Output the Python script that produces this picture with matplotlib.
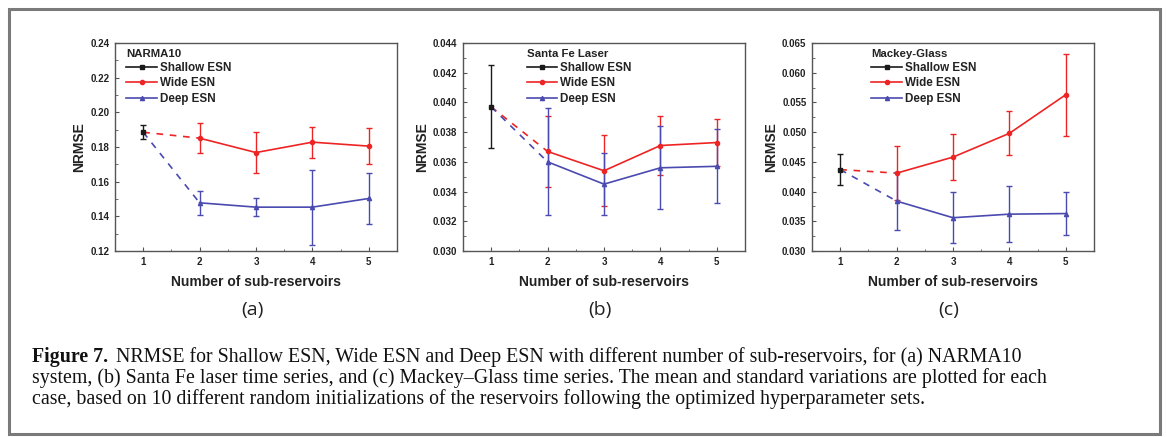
import matplotlib
matplotlib.use("Agg")
import matplotlib.pyplot as plt
from matplotlib.patches import Rectangle
from matplotlib.lines import Line2D
from matplotlib.ticker import MultipleLocator, FormatStrFormatter, AutoMinorLocator

# ---------------- data ----------------
sub_reservoirs = [1, 2, 3, 4, 5]
multi_x = [2, 3, 4, 5]

# (a) NARMA10
narma_shallow = 0.1885
narma_shallow_err = 0.0040
narma_wide = [0.1851, 0.1768, 0.1828, 0.1805]
narma_wide_err = [0.0087, 0.0118, 0.0089, 0.0103]
narma_deep = [0.1478, 0.1453, 0.1453, 0.1503]
narma_deep_err = [0.0069, 0.0053, 0.0216, 0.0145]

# (b) Santa Fe Laser
sfl_shallow = 0.0397
sfl_shallow_err = 0.0028
sfl_wide = [0.0367, 0.0354, 0.0371, 0.0373]
sfl_wide_err = [0.0024, 0.0024, 0.0020, 0.0016]
sfl_deep = [0.0360, 0.0345, 0.0356, 0.0357]
sfl_deep_err = [0.0036, 0.0021, 0.0028, 0.0025]

# (c) Mackey-Glass
mg_shallow = 0.0437
mg_shallow_err = 0.0026
mg_wide = [0.0431, 0.0458, 0.0498, 0.0563]
mg_wide_err = [0.0045, 0.0039, 0.0037, 0.0069]
mg_deep = [0.0384, 0.0356, 0.0362, 0.0363]
mg_deep_err = [0.0049, 0.0043, 0.0047, 0.0036]

panel_titles = ["NARMA10", "Santa Fe Laser", "Mackey-Glass"]
panel_tags = ["(a)", "(b)", "(c)"]
series_names = ["Shallow ESN", "Wide ESN", "Deep ESN"]
xlabel = "Number of sub-reservoirs"
ylabel = "NRMSE"

caption_bold = "Figure 7."
caption_line1 = "NRMSE for Shallow ESN, Wide ESN and Deep ESN with different number of sub-reservoirs, for (a) NARMA10"
caption_line2 = "system, (b) Santa Fe laser time series, and (c) Mackey\u2013Glass time series. The mean and standard variations are plotted for each"
caption_line3 = "case, based on 10 different random initializations of the reservoirs following the optimized hyperparameter sets."

# ---------------- style ----------------
W, H = 1167, 437
DPI = 100
SANS = ["Liberation Sans", "DejaVu Sans"]
plt.rcParams["font.family"] = SANS

C_SHALLOW = "#1a1a1a"
C_WIDE = "#ee2424"
C_DEEP = "#4a4ab0"
SPINE = "#555555"

fig = plt.figure(figsize=(W / DPI, H / DPI), dpi=DPI)

# outer frame
fig.patches.append(Rectangle((8.5 / W, 1 - 434 / H), (1160 - 8.5) / W, (434 - 8.5) / H,
                             transform=fig.transFigure, fill=False,
                             edgecolor="#7a7a7a", linewidth=2.2))

ax_lefts = [115, 463, 812]
ax_w = 282
ax_top, ax_bot = 43, 251

panels = [
    (narma_shallow, narma_shallow_err, narma_wide, narma_wide_err, narma_deep, narma_deep_err,
     (0.12, 0.24), 0.02, "%.2f", (0.02, 1.0)),
    (sfl_shallow, sfl_shallow_err, sfl_wide, sfl_wide_err, sfl_deep, sfl_deep_err,
     (0.030, 0.044), 0.002, "%.3f", (0.205, 1.0)),
    (mg_shallow, mg_shallow_err, mg_wide, mg_wide_err, mg_deep, mg_deep_err,
     (0.030, 0.065), 0.005, "%.3f", (0.19, 1.0)),
]

for i, (sh, she, wd, wde, dp, dpe, ylim, ystep, yfmt, legpos) in enumerate(panels):
    left = ax_lefts[i]
    ax = fig.add_axes([left / W, 1 - ax_bot / H, ax_w / W, (ax_bot - ax_top) / H])
    ekw = dict(capsize=2.3, capthick=1.0, elinewidth=1.0, linewidth=1.2, markersize=3.0)

    # dashed connectors from the shallow point to the first multi-reservoir point
    ax.plot([sub_reservoirs[0], multi_x[0]], [sh, wd[0]], color=C_WIDE, lw=1.2,
            linestyle=(0, (4, 4)), zorder=2)
    ax.plot([sub_reservoirs[0], multi_x[0]], [sh, dp[0]], color=C_DEEP, lw=1.2,
            linestyle=(0, (4, 4)), zorder=2)

    ax.errorbar([sub_reservoirs[0]], [sh], yerr=[she], color=C_SHALLOW, marker="s",
                zorder=4, **ekw)
    ax.errorbar(multi_x, wd, yerr=wde, color=C_WIDE, marker="o", zorder=3, **ekw)
    ax.errorbar(multi_x, dp, yerr=dpe, color=C_DEEP, marker="^", zorder=3, **ekw)

    handles = [Line2D([], [], color=C_SHALLOW, marker="s", lw=1.2, ms=3.0),
               Line2D([], [], color=C_WIDE, marker="o", lw=1.2, ms=3.0),
               Line2D([], [], color=C_DEEP, marker="^", lw=1.2, ms=3.0)]

    ax.set_xlim(0.5, 5.5)
    ax.set_ylim(*ylim)
    ax.set_xticks(sub_reservoirs)
    ax.xaxis.set_minor_locator(MultipleLocator(0.5))
    ax.yaxis.set_major_locator(MultipleLocator(ystep))
    ax.yaxis.set_minor_locator(AutoMinorLocator(2))
    ax.yaxis.set_major_formatter(FormatStrFormatter(yfmt))
    ax.tick_params(which="major", direction="in", length=3, width=0.8, colors=SPINE,
                   labelcolor="#222222", labelsize=7, pad=4)
    ax.tick_params(which="minor", direction="in", length=1.8, width=0.6, colors=SPINE)
    ax.tick_params(top=False, right=False, which="both")
    for lab in ax.get_xticklabels() + ax.get_yticklabels():
        lab.set_fontweight("bold")
    for s in ax.spines.values():
        s.set_color(SPINE)
        s.set_linewidth(1.0)

    ax.set_xlabel(xlabel, fontsize=10, fontweight="bold", color="#222222", labelpad=6)
    ax.set_ylabel(ylabel, fontsize=10, fontweight="bold", color="#222222", labelpad=3)

    leg = ax.legend(handles=handles, labels=series_names, loc="upper left", bbox_to_anchor=legpos,
                    frameon=False, title=panel_titles[i], alignment="left",
                    prop=dict(size=8.4, weight="bold"),
                    title_fontproperties=dict(size=8.2, weight="bold"),
                    handlelength=2.6, handletextpad=0.3, labelspacing=0.28,
                    borderaxespad=0.2, borderpad=0.3)
    for t in leg.get_texts():
        t.set_color("#222222")
    leg.get_title().set_color("#222222")

    cx = (left + ax_w / 2) / W
    fig.text(cx - 4 / W, 1 - 310 / H, panel_tags[i], ha="center", va="center",
             fontsize=14, family=["Open Sans", "DejaVu Sans"], color="#222222")

# caption
SERIF = ["Liberation Serif", "DejaVu Serif"]
cap_fs = 14.3
x0 = 32 / W
t_bold = fig.text(x0, 1 - 357 / H, caption_bold, fontsize=cap_fs, fontweight="bold",
                  family=SERIF, va="center", ha="left", color="#111111")
fig.canvas.draw()
bb = t_bold.get_window_extent(renderer=fig.canvas.get_renderer())
fig.text((bb.x1 + 8) / W, 1 - 357 / H, caption_line1, fontsize=cap_fs, family=SERIF,
         va="center", ha="left", color="#111111")
fig.text(x0, 1 - 378 / H, caption_line2, fontsize=cap_fs, family=SERIF,
         va="center", ha="left", color="#111111")
fig.text(x0, 1 - 399 / H, caption_line3, fontsize=cap_fs, family=SERIF,
         va="center", ha="left", color="#111111")

fig.savefig("out.png", dpi=DPI)
